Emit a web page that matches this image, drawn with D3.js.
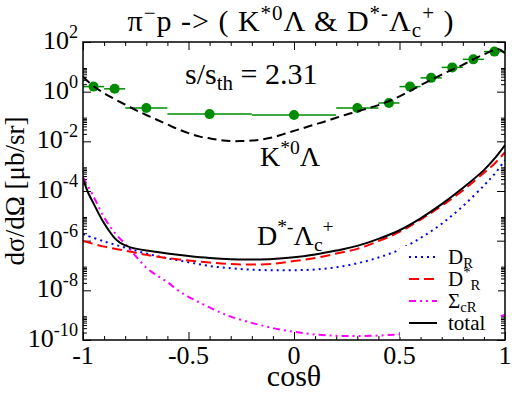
<!DOCTYPE html>
<html>
<head>
<meta charset="utf-8">
<script src="https://cdn.jsdelivr.net/npm/d3@7"></script>
</head>
<body style="margin:0">
<script>
// ---- data (curves are log10 of dsigma/dOmega) ----
const kGrid = [-1, -0.95, -0.9, -0.85, -0.8, -0.75, -0.7, -0.65, -0.6, -0.55, -0.5, -0.45, -0.4, -0.35, -0.3, -0.25,
  -0.2, -0.15, -0.1, -0.05, 0, 0.05, 0.1, 0.15, 0.2, 0.25, 0.3, 0.35, 0.4, 0.45, 0.5, 0.55, 0.6, 0.65, 0.7, 0.75,
  0.8, 0.85, 0.9, 0.95, 0.97, 1];
const kLambdaLog = [0.60, 0.22, -0.06, -0.30, -0.52, -0.74, -0.94, -1.13, -1.32, -1.51, -1.67, -1.80, -1.88, -1.95,
  -1.99, -1.99, -1.97, -1.92, -1.84, -1.71, -1.58, -1.45, -1.32, -1.19, -1.05, -0.92, -0.80, -0.67, -0.54, -0.38,
  -0.19, 0.03, 0.26, 0.48, 0.69, 0.89, 1.08, 1.30, 1.50, 1.68, 1.71, 1.55];

const totGrid = [-1, -0.975, -0.95, -0.925, -0.9, -0.875, -0.85, -0.825, -0.8, -0.775, -0.75, -0.7, -0.6, -0.5, -0.4,
  -0.3, -0.2, -0.1, 0, 0.1, 0.2, 0.3, 0.4, 0.5, 0.6, 0.7, 0.8, 0.9, 0.95, 1];
const totalLog = [-3.50, -4.08, -4.50, -4.92, -5.30, -5.62, -5.90, -6.08, -6.19, -6.27, -6.32, -6.40, -6.52, -6.62,
  -6.70, -6.75, -6.76, -6.74, -6.67, -6.56, -6.40, -6.21, -5.93, -5.58, -5.10, -4.53, -3.88, -3.16, -2.70, -2.15];

const cGrid = [-1, -0.9, -0.8, -0.7, -0.6, -0.5, -0.4, -0.3, -0.2, -0.1, 0, 0.1, 0.2, 0.3, 0.4, 0.5, 0.6, 0.7,
  0.8, 0.9, 0.95, 1];
const dStarRLog = [-6.01, -6.24, -6.40, -6.57, -6.70, -6.80, -6.88, -6.94, -6.96, -6.93, -6.82, -6.70, -6.52, -6.33,
  -6.02, -5.65, -5.15, -4.60, -3.98, -3.27, -2.90, -2.44];
const dRLog = [-5.74, -6.03, -6.28, -6.52, -6.71, -6.87, -7.02, -7.11, -7.17, -7.19, -7.19, -7.16, -7.07, -6.91,
  -6.68, -6.36, -5.89, -5.32, -4.61, -3.78, -3.32, -2.76];

const sGrid = [-1, -0.95, -0.9, -0.85, -0.8, -0.75, -0.7, -0.65, -0.6, -0.55, -0.5, -0.45, -0.4, -0.35, -0.3, -0.2,
  -0.1, 0, 0.1, 0.2, 0.3, 0.4, 0.5, 0.6, 0.7, 0.8, 0.9, 1];
const sigmaCRLog = [-3.45, -4.22, -5.06, -5.68, -6.13, -6.62, -7.09, -7.40, -7.67, -8.00, -8.26, -8.48, -8.69, -8.89,
  -9.06, -9.31, -9.52, -9.67, -9.78, -9.83, -9.84, -9.82, -9.77, -9.70, -9.60, -9.46, -9.28, -8.98];

// experimental points: cos(theta), value [mub/sr], half bin width
const expCos = [-0.95, -0.85, -0.7, -0.4, 0, 0.3, 0.45, 0.55, 0.65, 0.75, 0.85, 0.95];
const expVal = [1.6, 1.3, 0.22, 0.125, 0.115, 0.22, 0.35, 1.6, 3.6, 9.5, 20, 41];
const expHalf = [0.05, 0.05, 0.1, 0.2, 0.2, 0.1, 0.05, 0.05, 0.05, 0.05, 0.05, 0.05];

// axes
const xMajor = [-1, -0.5, 0, 0.5, 1];
const xMajorLabels = ["-1", "-0.5", "0", "0.5", "1"];
const xMinor = [-0.9, -0.8, -0.7, -0.6, -0.4, -0.3, -0.2, -0.1, 0.1, 0.2, 0.3, 0.4, 0.6, 0.7, 0.8, 0.9];
const yMajorExp = [-10, -8, -6, -4, -2, 0, 2];
const yMinorMult = [2, 3, 4, 5, 6, 7, 8, 9];

const legendNames = ["D_R", "D*_R", "Σ_cR", "total"];

// ---- layout ----
const W = 512, H = 393;
const margin = { left: 83, right: 7, top: 42, bottom: 53 };
const width = W - margin.left - margin.right;
const height = H - margin.top - margin.bottom;
const serif = "Liberation Serif";

const svg = d3.select("body").append("svg")
  .attr("width", W).attr("height", H);

const g = svg.append("g")
  .attr("transform", "translate(" + margin.left + "," + margin.top + ")");

const x = d3.scaleLinear().domain([-1, 1]).range([0, width]);
const y = d3.scaleLog().domain([1e-10, 1e2]).range([height, 0]);

// every text gets its font set right where it is made
function addText(parent) {
  return parent.append("text").attr("font-family", serif).attr("fill", "#000");
}

// rich text helper: parts = [[text, "sup"|"sub"|null], ...]
function rich(sel, parts, size, supShift) {
  let up = supShift || 0.42;
  let shift = 0;
  parts.forEach(function(p) {
    let target = p[1] === "sup" ? -up * size : p[1] === "sub" ? 0.2 * size : 0;
    sel.append("tspan")
      .attr("dy", target - shift)
      .attr("font-size", p[1] ? size * 0.7 : size)
      .text(p[0]);
    shift = target;
  });
}

// ---- ticks (inward, mirrored on all sides) ----
const yMinor = [];
yMajorExp.slice(0, -1).forEach(function(e) {
  yMinorMult.forEach(function(m) { yMinor.push(m * Math.pow(10, e)); });
});
const yMajorVals = yMajorExp.map(function(e) { return Math.pow(10, e); });

function tickAxes(axisFn, scale, major, minor, transform) {
  let a = g.append("g").attr("transform", transform)
    .call(axisFn(scale).tickValues(major).tickSize(-8).tickSizeOuter(0).tickFormat(""));
  let b = g.append("g").attr("transform", transform)
    .call(axisFn(scale).tickValues(minor).tickSize(-4).tickSizeOuter(0).tickFormat(""));
  [a, b].forEach(function(s) {
    s.select(".domain").remove();
    s.selectAll("text").remove();
    s.selectAll("line").attr("stroke", "#000").attr("stroke-width", 1);
  });
}
tickAxes(d3.axisBottom, x, xMajor, xMinor, "translate(0," + height + ")");
tickAxes(d3.axisTop, x, xMajor, xMinor, "translate(0,0)");
tickAxes(d3.axisLeft, y, yMajorVals, yMinor, "translate(0,0)");
tickAxes(d3.axisRight, y, yMajorVals, yMinor, "translate(" + width + ",0)");

// tick labels
xMajor.forEach(function(d, i) {
  addText(g)
    .attr("x", x(d))
    .attr("y", height + 24)
    .attr("text-anchor", "middle")
    .attr("font-size", 26)
    .text(xMajorLabels[i]);
});

yMajorExp.forEach(function(e) {
  let t = addText(g)
    .attr("x", -5)
    .attr("y", y(Math.pow(10, e)) + 7)
    .attr("text-anchor", "end");
  rich(t, [["10", null], [String(e), "sup"]], 26);
});

// ---- curves ----
svg.append("clipPath").attr("id", "plotclip")
  .append("rect").attr("width", width).attr("height", height);
const plot = g.append("g").attr("clip-path", "url(#plotclip)");

function linePts(grid, vals) {
  return grid.map(function(c, i) { return [c, Math.pow(10, vals[i])]; });
}
const line = d3.line()
  .x(function(d) { return x(d[0]); })
  .y(function(d) { return y(d[1]); })
  .curve(d3.curveCatmullRom.alpha(0.5));

const green = "#008b00";

// experimental points
expCos.forEach(function(c, i) {
  plot.append("line")
    .attr("x1", x(c - expHalf[i])).attr("x2", x(c + expHalf[i]))
    .attr("y1", y(expVal[i])).attr("y2", y(expVal[i]))
    .attr("stroke", green).attr("stroke-width", 1.5);
});
plot.selectAll(".pt").data(expCos).enter().append("circle")
  .attr("class", "pt")
  .attr("cx", function(d) { return x(d); })
  .attr("cy", function(d, i) { return y(expVal[i]); })
  .attr("r", 5)
  .attr("fill", green);

const series = [
  { pts: linePts(cGrid, dRLog), color: "#0000ff", dash: "2,4" },
  { pts: linePts(cGrid, dStarRLog), color: "#ff0000", dash: "10,5" },
  { pts: linePts(sGrid, sigmaCRLog), color: "#ff00ff", dash: "7,4,2,4,2,4" },
  { pts: linePts(totGrid, totalLog), color: "#000", dash: null },
  { pts: linePts(kGrid, kLambdaLog), color: "#000", dash: "9,5" }
];
series.forEach(function(s) {
  plot.append("path")
    .attr("d", line(s.pts))
    .attr("fill", "none")
    .attr("stroke", s.color)
    .attr("stroke-width", 2)
    .attr("stroke-dasharray", s.dash);
});

// frame
g.append("rect")
  .attr("width", width).attr("height", height)
  .attr("fill", "none").attr("stroke", "#000").attr("stroke-width", 1.5);

// ---- legend ----
const leg = g.append("g").attr("transform", "translate(" + (400 - margin.left) + "," + (246 - margin.top) + ")");
leg.append("rect").attr("width", 98).attr("height", 91).attr("fill", "#fff");
const legParts = [
  [["D", null], ["R", "sub"]],
  [["D", null], ["*", "sup"], ["R", "sub"]],
  [["Σ", null], ["cR", "sub"]],
  [["total", null]]
];
legendNames.forEach(function(name, i) {
  let s = series[i];
  let yy = 11 + i * 22;
  leg.append("line")
    .attr("x1", 9).attr("x2", 37).attr("y1", yy).attr("y2", yy)
    .attr("stroke", s.color).attr("stroke-width", 2)
    .attr("stroke-dasharray", s.dash);
  let t = addText(leg).attr("x", 48).attr("y", yy + 7);
  rich(t, legParts[i], 21);
});

// ---- annotations ----
rich(addText(svg).attr("x", 291).attr("y", 31).attr("text-anchor", "middle").attr("letter-spacing", 1),
  [["π", null], ["−", "sup"], ["p -> ( K", null], ["*0", "sup"], ["Λ & D", null], ["*-", "sup"],
   ["Λ", null], ["c", "sub"], ["+", "sup"], [" )", null]], 30, 0.36);

rich(addText(svg).attr("x", 185).attr("y", 84),
  [["s/s", null], ["th", "sub"], [" = 2.31", null]], 30);

rich(addText(svg).attr("x", 260).attr("y", 166),
  [["K", null], ["*0", "sup"], ["Λ", null]], 28);

rich(addText(svg).attr("x", 257).attr("y", 245),
  [["D", null], ["*-", "sup"], ["Λ", null], ["c", "sub"], ["+", "sup"]], 28);

// axis titles
addText(svg)
  .attr("x", 294).attr("y", 386)
  .attr("text-anchor", "middle")
  .attr("font-size", 30)
  .text("cosθ");

addText(svg)
  .attr("transform", "translate(24," + (margin.top + height / 2) + ") rotate(-90)")
  .attr("text-anchor", "middle")
  .attr("font-size", 27)
  .text("dσ/dΩ [μb/sr]");
</script>
</body>
</html>
